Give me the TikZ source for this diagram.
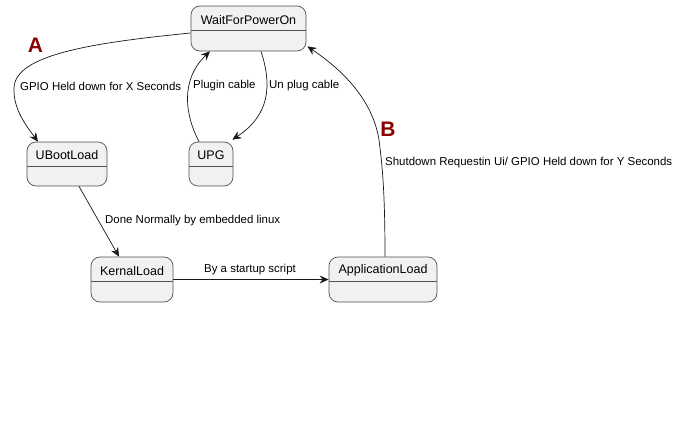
\documentclass[tikz,border=0pt]{standalone}
\usepackage{fontspec}
\setmainfont{Liberation Sans}
\usetikzlibrary{arrows.meta}
\definecolor{stfill}{HTML}{F1F1F1}
\definecolor{stline}{HTML}{181818}
\definecolor{mark}{RGB}{139,0,0}
\tikzset{
  stbox/.style={draw=stline!75, fill=stfill, line width=0.7pt, rounded corners=9pt, inner sep=0pt, shape=rectangle},
  sttext/.style={font=\fontsize{12.5}{14}\selectfont, inner sep=0pt, anchor=center},
  trans/.style={draw=stline, line width=0.7pt, -{Stealth[length=9pt,width=8pt,inset=3pt]}},
  tlabel/.style={font=\fontsize{11.45}{13}\selectfont, inner sep=0pt, anchor=west},
  bigmark/.style={font=\fontsize{21}{24}\selectfont\bfseries, text=mark, inner sep=0pt},
  divider/.style={draw=stline!75, line width=0.7pt}
}
\begin{document}
\begin{tikzpicture}[x=1pt,y=-1pt]
\useasboundingbox[fill=white] (0,0) rectangle (690,436);

% states
\node[stbox, minimum width=115pt, minimum height=45pt] (w) at (248.5,28.5) {};
\node[stbox, minimum width=80pt, minimum height=44pt] (u) at (67,164) {};
\node[stbox, minimum width=44pt, minimum height=44pt] (p) at (211,164) {};
\node[stbox, minimum width=82pt, minimum height=45pt] (k) at (132,279.5) {};
\node[stbox, minimum width=108pt, minimum height=45pt] (a) at (383,279.5) {};

\foreach \n in {w,u,p,k,a}{
  \draw[divider] ([yshift=-2pt]\n.west) -- ([yshift=-2pt]\n.east);
}

\node[sttext] (wt) at ([yshift=-14pt]w.north) {WaitForPowerOn};
\node[sttext] (ut) at ([yshift=-13.5pt]u.north) {UBootLoad};
\node[sttext] (pt) at ([yshift=-13.5pt]p.north) {UPG};
\node[sttext] (kt) at ([yshift=-14pt]k.north) {KernalLoad};
\node[sttext] (at) at ([yshift=-14pt]a.north) {ApplicationLoad};

% transitions
\draw[trans] ([yshift=-4.5pt]w.west) .. controls (90,43) and (15,55) .. (14,88)
  .. controls (13,110) and (28,128) .. ([xshift=-29pt]u.north);
\draw[trans] ([xshift=-12pt]p.north) .. controls (185,115) and (180,80) .. ([xshift=-38.5pt]w.south);
\draw[trans] ([xshift=12.5pt]w.south) .. controls (272,85) and (270,115) .. ([xshift=-1pt,yshift=2pt]p.north east);
\draw[trans] ([xshift=2pt]a.north) .. controls (385,200) and (383,170) .. (379,140)
  .. controls (372,95) and (335,65) .. ([xshift=1pt,yshift=5pt]w.south east);
\draw[trans] ([xshift=12pt]u.south) -- ([xshift=-13pt]k.north);
\draw[trans] (k.east) -- (a.west);

% labels
\node[tlabel] (l1) at (20,86) {GPIO Held down for X Seconds};
\node[tlabel] (l2) at (193,86) {Plugin cable};
\node[tlabel] (l3) at (269,86) {Un plug cable};
\node[tlabel] (l4) at (105,221) {Done Normally by embedded linux};
\node[tlabel] (l5) at (204,270) {By a startup script};
\node[tlabel] (l6) at (385,163) {Shutdown Requestin Ui/ GPIO Held down for Y Seconds};

\node[bigmark] (ma) at (35.5,45.5) {A};
\node[bigmark] (mb) at (388,129.5) {B};
\end{tikzpicture}
\end{document}
